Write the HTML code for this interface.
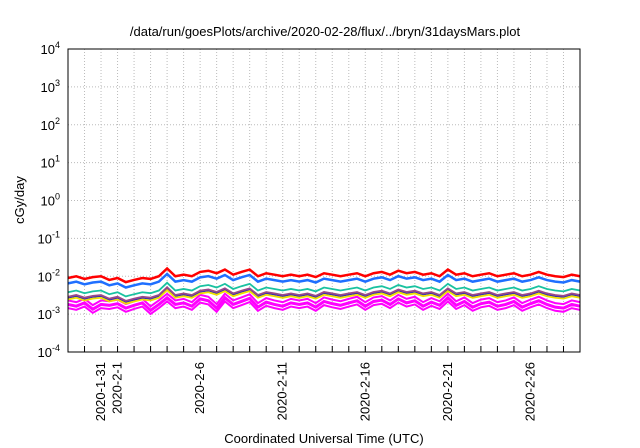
<!DOCTYPE html>
<html><head><meta charset="utf-8"><style>
body{margin:0;background:#fff}
svg{display:block;font-family:"Liberation Sans",sans-serif}
</style></head><body>
<svg id="chart" width="640" height="448" viewBox="0 0 640 448">
<text x="325" y="36" text-anchor="middle" font-size="13">/data/run/goesPlots/archive/2020-02-28/flux/../bryn/31daysMars.plot</text>
<text transform="translate(24,200) rotate(-90)" text-anchor="middle" font-size="13">cGy/day</text>
<text x="324" y="443" text-anchor="middle" font-size="13">Coordinated Universal Time (UTC)</text>
<g id="grid"></g><g id="series"></g><g id="axes"></g>
</svg>
<script>
const dateLabels=["2020-1-31","2020-2-1","2020-2-6","2020-2-11","2020-2-16","2020-2-21","2020-2-26"];
const dateDays=[2,3,8,13,18,23,28];
const yExps=[-4,-3,-2,-1,0,1,2,3,4];
const redVals=[9,10,8.5,9.5,10,8, 9,7,8,9,8.5,10, 16,10,11,10, 13,14,12,15,11,13, 15,10,12,11,10,11, 10,11,9.5,12,11,10, 11,12,10,12,13,11, 14,12,13,11,12,10, 15,11,12,10,11,12, 10,11,12,10,11,13, 11,10,9.5,11,10];
const magentaVals=[2,1.8,2.2,1.5,2,1.9, 2.1,1.6,1.9,2.2,1.4,2, 3,2,2.2,1.8, 2.8,2.5,1.6,3,2,2.4, 2.9,1.7,2.3,2,1.8,2.2, 2,2.2,1.7,2.4,2.1,1.9, 2.2,2.5,1.8,2.4,2.6,2, 2.8,2.2,2.5,1.8,2.3,1.9, 3,1.9,2.4,1.7,2.1,2.3, 1.8,2,2.4,1.7,2.1,2.5, 2,1.7,1.6,2,1.8];
const seriesRatios=[1,0.72,0.42,0.32,0.27,0.3];
const seriesColors=["#ff0000","#1f6fff","#19c2a0","#9a4a8a","#f0e000","#3030b0"];
const NS="http://www.w3.org/2000/svg";
const L=68,R=580,T=49,B=352,days=31;
const xs=d=>L+(d/days)*(R-L);
const ys=v=>B-(Math.log10(v)+4)/8*(B-T);
function mk(tag,attrs,parent){const e=document.createElementNS(NS,tag);for(const k in attrs)e.setAttribute(k,attrs[k]);parent.appendChild(e);return e;}
const grid=document.getElementById('grid'),axes=document.getElementById('axes'),ser=document.getElementById('series');
for(let d=1;d<days;d++){
 const g=mk('line',{x1:xs(d),x2:xs(d),y1:T,y2:B,stroke:'#bbb','stroke-dasharray':'1,2'},grid);
 
 
 const t=mk('line',{x1:xs(d),x2:xs(d),y1:B,y2:B-6,stroke:'#000'},axes);
 
 
}
yExps.forEach(e=>{
 const y=ys(Math.pow(10,e));
 if(e>-4&&e<4){const g=mk('line',{x1:L,x2:R,y1:y,y2:y,stroke:'#bbb','stroke-dasharray':'1,2'},grid);
 
 }
 const t=mk('text',{x:L-8,y:y+5,'text-anchor':'end','font-size':'13'},axes);
 
 
 t.innerHTML='10<tspan dy="-6" font-size="9">'+e+'</tspan>';
});
dateLabels.forEach((s,i)=>{
 const x=xs(dateDays[i]);
 const t=mk('text',{transform:`translate(${x+4},362) rotate(-90)`,'text-anchor':'end','font-size':'13'},axes);
 
 
 t.textContent=s;
});
const n=redVals.length;
const px=i=>xs(i*days/(n-1));
{
 let top=magentaVals.map((v,i)=>px(i)+','+ys(v*1e-3*1.15)).join(' ');
 let bot=magentaVals.map((v,i)=>px(i)+','+ys(v*1e-3*0.72)).join(' ');
 const p=mk('polyline',{points:top,fill:'none',stroke:'#ff00ff','stroke-width':2},ser);
 
 
 const q=mk('polyline',{points:bot,fill:'none',stroke:'#ff00ff','stroke-width':2},ser);
 
 
 const m=mk('polyline',{points:magentaVals.map((v,i)=>px(i)+','+ys(v*1e-3*0.9)).join(' '),fill:'none',stroke:'#ff00ff','stroke-width':3},ser);
 
 
}
for(let s=seriesRatios.length-1;s>=0;s--){
 const pts=redVals.map((v,i)=>px(i)+','+ys(v*1e-3*seriesRatios[s])).join(' ');
 const p=mk('polyline',{points:pts,fill:'none',stroke:seriesColors[s],'stroke-width':s<2?2.5:1.8},ser);
 
 
}
const f=mk('rect',{x:L,y:T,width:R-L,height:B-T,fill:'none',stroke:'#000'},axes);


</script>
</body></html>
